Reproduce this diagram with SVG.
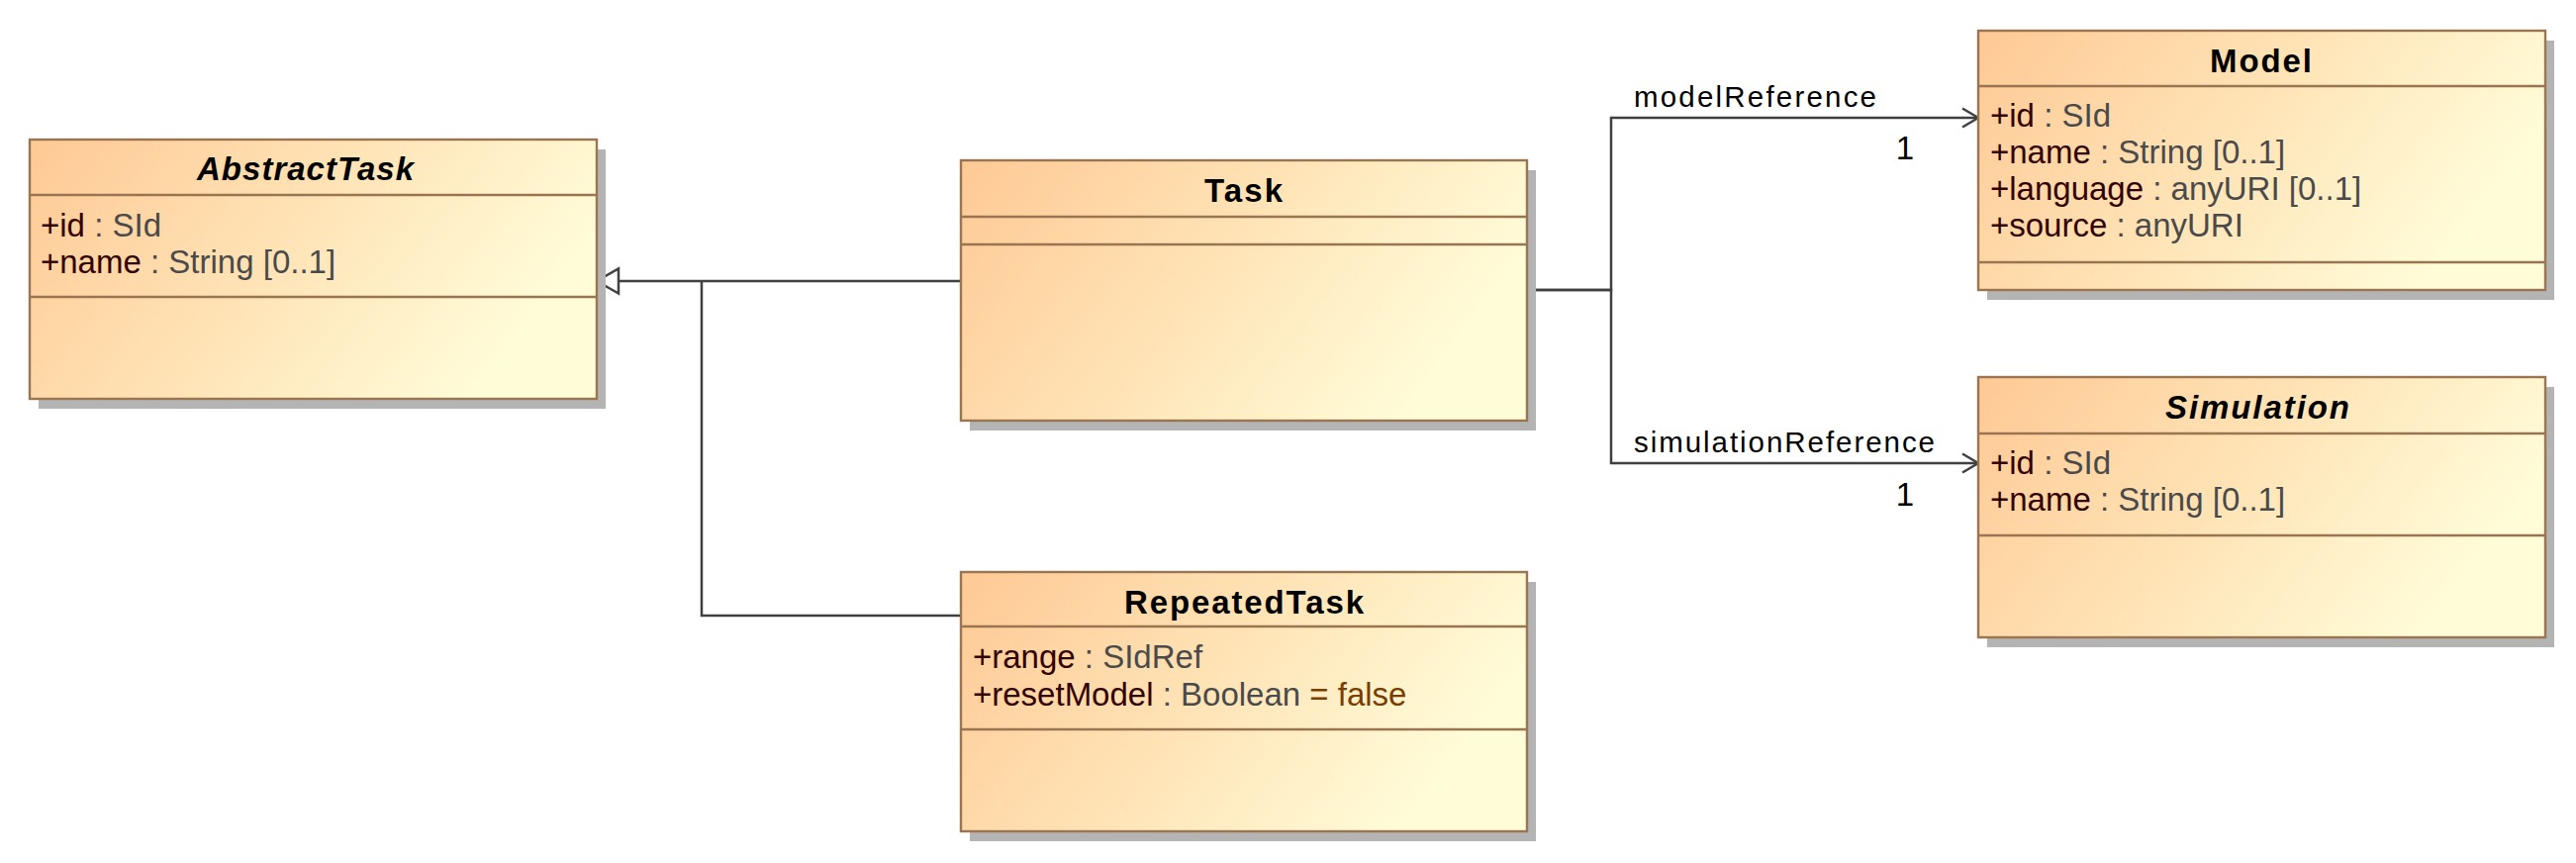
<svg xmlns="http://www.w3.org/2000/svg" width="2603" height="872" viewBox="0 0 2603 872">
<defs>
<linearGradient id="g" x1="0" y1="0" x2="1" y2="0.35">
<stop offset="0" stop-color="#fec995"/>
<stop offset="0.5" stop-color="#ffe2b4"/>
<stop offset="1" stop-color="#fffcd8"/>
</linearGradient>
<marker id="open" markerUnits="userSpaceOnUse" markerWidth="24" markerHeight="24" viewBox="-2 -2 22 24" refX="16" refY="9.5" orient="auto">
<path d="M0,0 L16,9.5 L0,19" fill="none" stroke="#404040" stroke-width="2.5"/>
</marker>
<marker id="gen" markerUnits="userSpaceOnUse" markerWidth="30" markerHeight="30" viewBox="-2 -2 28 30" refX="22" refY="12.5" orient="auto">
<path d="M0,0 L22,12.5 L0,25 Z" fill="#ffffff" stroke="#404040" stroke-width="2.5"/>
</marker>
</defs>
<style>
.sh{fill:#b4b4b4}
.box{fill:url(#g);stroke:#9a7552;stroke-width:2.4}
.dv{stroke:#9a7552;stroke-width:2.4}
.ti{font-family:"Liberation Sans",Arial,sans-serif;font-size:33px;font-weight:bold;fill:#000}
.it{font-style:italic}
.at{font-family:"Liberation Sans",Arial,sans-serif;font-size:33px}
.n{fill:#330000}
.t{fill:#4a4a4a}
.v{fill:#7a3d00}
.c{fill:none;stroke:#404040;stroke-width:2.5}
.lb{font-family:"Liberation Sans",Arial,sans-serif;font-size:29.5px;fill:#000}
.m{font-family:"Liberation Sans",Arial,sans-serif;font-size:33px;fill:#000;text-anchor:middle}
</style>
<rect width="2603" height="872" fill="#ffffff"/>

<g id="connectors">
<path class="c" d="M971,284 H603" marker-end="url(#gen)"/>
<path class="c" d="M971,622 H709 V284"/>
<path class="c" d="M1543,293 H1628 V119 H1999" marker-end="url(#open)"/>
<path class="c" d="M1543,293 H1628 V468 H1999" marker-end="url(#open)"/>
<text class="lb" x="1651" y="108" textLength="245" lengthAdjust="spacing">modelReference</text>
<text class="m" x="1925" y="161">1</text>
<text class="lb" x="1651" y="457" textLength="304" lengthAdjust="spacing">simulationReference</text>
<text class="m" x="1925" y="511">1</text>
</g>

<g id="AbstractTask">
<rect class="sh" x="39" y="151" width="573" height="262"/>
<rect class="box" x="30" y="141" width="573" height="262"/>
<line class="dv" x1="30" y1="197" x2="603" y2="197"/>
<line class="dv" x1="30" y1="300" x2="603" y2="300"/>
<text class="ti it" x="199" y="182" textLength="219" lengthAdjust="spacing">AbstractTask</text>
<text class="at" x="41" y="239"><tspan class="n">+id</tspan><tspan class="t"> : SId</tspan></text>
<text class="at" x="41" y="276"><tspan class="n">+name</tspan><tspan class="t"> : String [0..1]</tspan></text>
</g>

<g id="Task">
<rect class="sh" x="980" y="172" width="572" height="263"/>
<rect class="box" x="971" y="162" width="572" height="263"/>
<line class="dv" x1="971" y1="219" x2="1543" y2="219"/>
<line class="dv" x1="971" y1="247" x2="1543" y2="247"/>
<text class="ti" x="1217" y="204" textLength="79" lengthAdjust="spacing">Task</text>
</g>

<g id="RepeatedTask">
<rect class="sh" x="980" y="588" width="572" height="262"/>
<rect class="box" x="971" y="578" width="572" height="262"/>
<line class="dv" x1="971" y1="633" x2="1543" y2="633"/>
<line class="dv" x1="971" y1="737" x2="1543" y2="737"/>
<text class="ti" x="1136" y="620" textLength="242" lengthAdjust="spacing">RepeatedTask</text>
<text class="at" x="983" y="675"><tspan class="n">+range</tspan><tspan class="t"> : SIdRef</tspan></text>
<text class="at" x="983" y="713"><tspan class="n">+resetModel</tspan><tspan class="t"> : Boolean</tspan><tspan class="v"> = false</tspan></text>
</g>

<g id="Model">
<rect class="sh" x="2008" y="41" width="573" height="262"/>
<rect class="box" x="1999" y="31" width="573" height="262"/>
<line class="dv" x1="1999" y1="87" x2="2572" y2="87"/>
<line class="dv" x1="1999" y1="265" x2="2572" y2="265"/>
<text class="ti" x="2233" y="73" textLength="103" lengthAdjust="spacing">Model</text>
<text class="at" x="2011" y="128"><tspan class="n">+id</tspan><tspan class="t"> : SId</tspan></text>
<text class="at" x="2011" y="165"><tspan class="n">+name</tspan><tspan class="t"> : String [0..1]</tspan></text>
<text class="at" x="2011" y="202"><tspan class="n">+language</tspan><tspan class="t"> : anyURI [0..1]</tspan></text>
<text class="at" x="2011" y="239"><tspan class="n">+source</tspan><tspan class="t"> : anyURI</tspan></text>
</g>

<g id="Simulation">
<rect class="sh" x="2008" y="391" width="573" height="263"/>
<rect class="box" x="1999" y="381" width="573" height="263"/>
<line class="dv" x1="1999" y1="438" x2="2572" y2="438"/>
<line class="dv" x1="1999" y1="541" x2="2572" y2="541"/>
<text class="ti it" x="2188" y="423" textLength="186" lengthAdjust="spacing">Simulation</text>
<text class="at" x="2011" y="479"><tspan class="n">+id</tspan><tspan class="t"> : SId</tspan></text>
<text class="at" x="2011" y="516"><tspan class="n">+name</tspan><tspan class="t"> : String [0..1]</tspan></text>
</g>
</svg>
